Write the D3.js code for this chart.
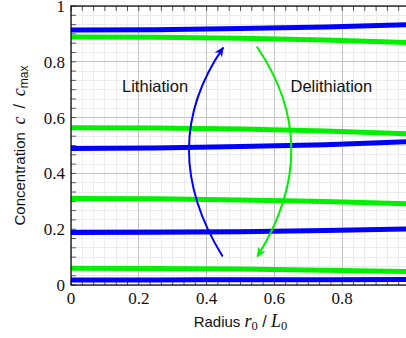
<!DOCTYPE html>
<html><head><meta charset="utf-8">
<script src="https://cdn.jsdelivr.net/npm/d3@7"></script>
<style>html,body{margin:0;padding:0;background:#fff;overflow:hidden}</style>
</head><body>
<svg id="c" width="406" height="338"></svg>
<script>
// Data
const radius = [0, 0.25, 0.5, 0.75, 1];
const lithiation1 = [0.018, 0.018, 0.019, 0.019, 0.020];
const lithiation2 = [0.188, 0.189, 0.191, 0.195, 0.201];
const lithiation3 = [0.489, 0.491, 0.496, 0.503, 0.514];
const lithiation4 = [0.914, 0.915, 0.919, 0.925, 0.933];
const delithiation1 = [0.060, 0.059, 0.057, 0.053, 0.048];
const delithiation2 = [0.310, 0.309, 0.305, 0.299, 0.291];
const delithiation3 = [0.564, 0.563, 0.559, 0.552, 0.542];
const delithiation4 = [0.889, 0.888, 0.884, 0.878, 0.869];
const xTicks = [0, 0.2, 0.4, 0.6, 0.8, 1];
const yTicks = [0, 0.2, 0.4, 0.6, 0.8, 1];
const xTickLabels = ["0", "0.2", "0.4", "0.6", "0.8", "1"];
const yTickLabels = ["0", "0.2", "0.4", "0.6", "0.8", "1"];
// arrows: start, middle, end (data coords)
const lithArrow = [[0.4475, 0.102], [0.348, 0.486], [0.449, 0.851]];
const delithArrow = [[0.548, 0.855], [0.650, 0.486], [0.5496, 0.102]];
const annotations = [{text: "Lithiation", x: 0.248, y: 0.715}, {text: "Delithiation", x: 0.768, y: 0.715}];

const blue = "#0000ff", green = "#00f000";
const svg = d3.select("#c");
const m = {l: 71, t: 6};
const W = 339, H = 279;
const x = d3.scaleLinear().domain([0, 1]).range([m.l, m.l + W]);
const y = d3.scaleLinear().domain([0, 1]).range([m.t + H, m.t]);

const minorX = d3.range(0, 1.0001, 0.2 / 6);
const minorY = d3.range(0, 1.0001, 0.2 / 6);

const g = svg.append("g");
// minor grid
g.selectAll(".mgx").data(minorX).enter().append("line")
  .attr("x1", d => x(d)).attr("x2", d => x(d)).attr("y1", y(0)).attr("y2", y(1))
  .attr("stroke", "#ececec").attr("stroke-width", 1).attr("shape-rendering", "crispEdges");
g.selectAll(".mgy").data(minorY).enter().append("line")
  .attr("y1", d => y(d)).attr("y2", d => y(d)).attr("x1", x(0)).attr("x2", x(1))
  .attr("stroke", "#ececec").attr("stroke-width", 1).attr("shape-rendering", "crispEdges");
// major grid
g.selectAll(".gx").data(xTicks).enter().append("line")
  .attr("x1", d => x(d)).attr("x2", d => x(d)).attr("y1", y(0)).attr("y2", y(1))
  .attr("stroke", "#c4c4c4").attr("stroke-width", 1).attr("shape-rendering", "crispEdges");
g.selectAll(".gy").data(yTicks).enter().append("line")
  .attr("y1", d => y(d)).attr("y2", d => y(d)).attr("x1", x(0)).attr("x2", x(1))
  .attr("stroke", "#c4c4c4").attr("stroke-width", 1).attr("shape-rendering", "crispEdges");

// ticks (inward) on left, top, bottom
const tl = 5;
const tk = svg.append("g").attr("stroke", "#333").attr("stroke-width", 0.8);
minorX.forEach(d => {
  tk.append("line").attr("x1", x(d)).attr("x2", x(d)).attr("y1", y(1)).attr("y2", y(1) + tl);
  tk.append("line").attr("x1", x(d)).attr("x2", x(d)).attr("y1", y(0)).attr("y2", y(0) - tl);
});
minorY.forEach(d => {
  tk.append("line").attr("y1", y(d)).attr("y2", y(d)).attr("x1", x(0)).attr("x2", x(0) + tl);
});

// lines
const line = d3.line().x((d, i) => x(radius[i])).y(d => y(d)).curve(d3.curveMonotoneX);
const series = [
  {v: delithiation1, c: green}, {v: delithiation2, c: green}, {v: delithiation3, c: green}, {v: delithiation4, c: green},
  {v: lithiation1, c: blue}, {v: lithiation2, c: blue}, {v: lithiation3, c: blue}, {v: lithiation4, c: blue}
];
svg.selectAll(".s").data(series).enter().append("path")
  .attr("d", d => line(d.v)).attr("fill", "none").attr("stroke", d => d.c).attr("stroke-width", 5);

// axis frame
svg.append("rect").attr("x", x(0)).attr("y", y(1)).attr("width", W).attr("height", H)
  .attr("fill", "none").attr("stroke", "#000").attr("stroke-width", 1.2);

// arrow markers
const defs = svg.append("defs");
function marker(id, col) {
  defs.append("marker").attr("id", id).attr("viewBox", "-10 -5 12 10")
    .attr("refX", 0).attr("refY", 0).attr("markerWidth", 12).attr("markerHeight", 10)
    .attr("markerUnits", "userSpaceOnUse").attr("orient", "auto")
    .append("path").attr("d", "M1,0 L-9,-4.5 L-6,0 L-9,4.5 Z").attr("fill", col);
}
marker("ab", blue); marker("ag", green);
function arc(pts) {
  const p0 = [x(pts[0][0]), y(pts[0][1])], pm = [x(pts[1][0]), y(pts[1][1])], p2 = [x(pts[2][0]), y(pts[2][1])];
  const c = [2 * pm[0] - (p0[0] + p2[0]) / 2, 2 * pm[1] - (p0[1] + p2[1]) / 2];
  const p = d3.path();
  p.moveTo(p0[0], p0[1]);
  p.quadraticCurveTo(c[0], c[1], p2[0], p2[1]);
  return p.toString();
}
svg.append("path").attr("d", arc(lithArrow)).attr("fill", "none").attr("stroke", blue)
  .attr("stroke-width", 2).attr("marker-end", "url(#ab)");
svg.append("path").attr("d", arc(delithArrow)).attr("fill", "none").attr("stroke", green)
  .attr("stroke-width", 2).attr("marker-end", "url(#ag)");

const sans = "'Liberation Sans', Arial, sans-serif";
const serif = "'Liberation Serif', 'DejaVu Serif', serif";

// annotations
svg.selectAll(".an").data(annotations).enter().append("text")
  .attr("x", d => x(d.x)).attr("y", d => y(d.y)).attr("text-anchor", "middle").attr("dominant-baseline", "central")
  .style("font-family", sans).attr("font-size", 16.5).attr("fill", "#111")
  .text(d => d.text);

// tick labels
svg.selectAll(".xl").data(xTicks).enter().append("text")
  .attr("x", d => x(d)).attr("y", 304).attr("text-anchor", "middle")
  .style("font-family", serif).attr("font-size", 17).attr("fill", "#111")
  .text((d, i) => xTickLabels[i]);
svg.selectAll(".yl").data(yTicks).enter().append("text")
  .attr("x", 65).attr("y", d => y(d) + 6).attr("text-anchor", "end")
  .style("font-family", serif).attr("font-size", 17).attr("fill", "#111")
  .text((d, i) => yTickLabels[i]);

// axis titles
const xt = svg.append("text").attr("x", (x(0) + x(1)) / 2).attr("y", 327).attr("text-anchor", "middle")
  .style("font-family", sans).attr("font-size", 15).attr("fill", "#111");
xt.append("tspan").text("Radius ");
xt.append("tspan").style("font-family", serif).attr("font-style", "italic").attr("font-size", 18).text("r");
xt.append("tspan").style("font-family", serif).attr("font-size", 12.5).attr("dy", 3).text("0");
xt.append("tspan").attr("dy", -3).attr("font-size", 16).text(" / ");
xt.append("tspan").style("font-family", serif).attr("font-style", "italic").attr("font-size", 18).text("L");
xt.append("tspan").style("font-family", serif).attr("font-size", 12.5).attr("dy", 3).text("0");

const yt = svg.append("text").attr("transform", `translate(25,${(y(0) + y(1)) / 2}) rotate(-90)`)
  .attr("text-anchor", "middle").style("font-family", sans).attr("font-size", 15).attr("fill", "#111");
yt.append("tspan").text("Concentration\u2002");
yt.append("tspan").style("font-family", serif).attr("font-style", "italic").attr("font-size", 18).text("c");
yt.append("tspan").attr("font-size", 16).text("\u2002/\u2002");
yt.append("tspan").style("font-family", serif).attr("font-style", "italic").attr("font-size", 18).text("c");
yt.append("tspan").attr("font-size", 12).attr("dy", 3).text("max");
</script>
</body></html>
